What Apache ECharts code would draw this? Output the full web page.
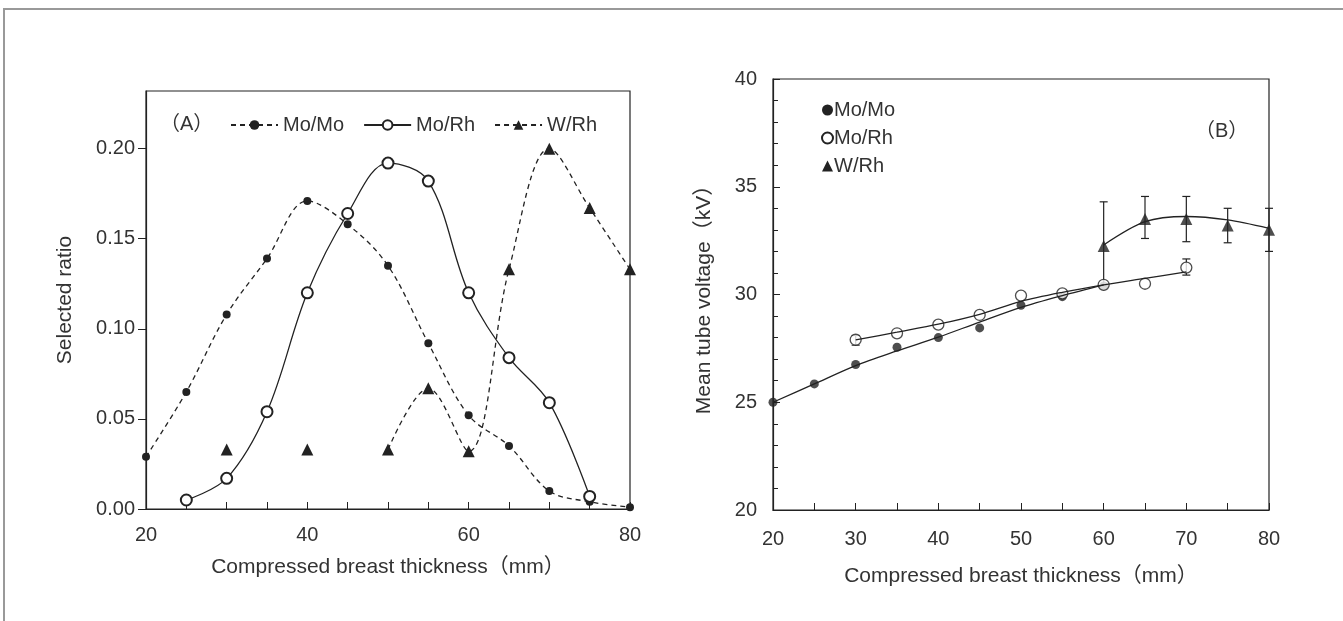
<!DOCTYPE html>
<html>
<head>
<meta charset="utf-8">
<script src="https://cdn.jsdelivr.net/npm/echarts@6/dist/echarts.min.js"></script>
<style>
html,body{margin:0;padding:0;background:#fff;}
#main{width:1343px;height:621px;}
</style>
</head>
<body>
<div id="main"></div>
<script>
// (A) selected ratio vs thickness
var thickA = [20,25,30,35,40,45,50,55,60,65,70,75,80];
var moMoRatio = [0.029,0.065,0.108,0.139,0.171,0.158,0.135,0.092,0.052,0.035,0.010,0.004,0.001];
var moRhThickA = [25,30,35,40,45,50,55,60,65,70,75];
var moRhRatio = [0.005,0.017,0.054,0.120,0.164,0.192,0.182,0.120,0.084,0.059,0.007];
var wRhThickA = [30,35,40,45,50,55,60,65,70,75,80];
var wRhRatio = [0.033,null,0.033,null,0.033,0.067,0.032,0.133,0.200,0.167,0.133];
var ratioTicks = [0,0.05,0.10,0.15,0.20];
var thickTicksA = [20,25,30,35,40,45,50,55,60,65,70,75,80];
var thickLabelsA = [20,40,60,80];

// (B) mean tube voltage vs thickness
var moMoThickB = [20,25,30,35,40,45,50,55,60];
var moMoKV = [25.0,25.85,26.75,27.55,28.0,28.45,29.5,29.9,30.4];
var moRhThickB = [30,35,40,45,50,55,60,65,70];
var moRhKV = [27.9,28.2,28.6,29.05,29.95,30.05,30.45,30.5,31.25];
var moRhErrThick = [30,70];
var moRhErrLow = [27.65,30.9];
var moRhErrHigh = [28.1,31.65];
var wRhThickB = [60,65,70,75,80];
var wRhKV = [32.25,33.5,33.5,33.2,33.0];
var wRhLow = [30.4,32.6,32.45,32.4,32.0];
var wRhHigh = [34.3,34.55,34.55,34.0,34.0];
// fitted curves
var moMoFitX = [20,25,30,35,40,45,50,55,60];
var moMoFit = [25.0,25.85,26.7,27.38,28.02,28.72,29.4,29.95,30.45];
var moRhFitX = [30,35,40,45,50,55,60,65,70];
var moRhFit = [27.89,28.25,28.62,29.08,29.68,30.1,30.45,30.75,31.05];
var wRhFitX = [60,65,70,75,80];
var wRhFit = [32.3,33.38,33.62,33.46,33.07];
var thickTicksB = [20,25,30,35,40,45,50,55,60,65,70,75,80];
var thickLabelsB = [20,30,40,50,60,70,80];

var FONT = "'Liberation Sans', 'Noto Sans CJK JP', sans-serif";
var INK = '#222';
var TXT = '#333';

function pairs(xs, ys) {
	return xs.map(function(x, i) { return [x, ys[i] == null ? '-' : ys[i]]; });
}

function errorBars(xs, lo, hi, gi) {
	return {
		type: 'custom', xAxisIndex: gi, yAxisIndex: gi, silent: true, z: 1,
		data: xs.map(function(x, i) { return [x, lo[i], hi[i]]; }),
		renderItem: function(params, api) {
			var a = api.coord([api.value(0), api.value(1)]);
			var b = api.coord([api.value(0), api.value(2)]);
			var w = 4;
			var st = {stroke: INK, lineWidth: 1.2};
			return {type: 'group', children: [
				{type: 'line', shape: {x1: a[0], y1: a[1], x2: b[0], y2: b[1]}, style: st},
				{type: 'line', shape: {x1: a[0]-w, y1: a[1], x2: a[0]+w, y2: a[1]}, style: st},
				{type: 'line', shape: {x1: b[0]-w, y1: b[1], x2: b[0]+w, y2: b[1]}, style: st}
			]};
		}
	};
}

var axisLine = {lineStyle: {color: INK, width: 1.2}};

var myChart = echarts.init(document.getElementById('main'));

var option = {
	backgroundColor: '#fff',
	animation: false,
	textStyle: {fontFamily: FONT},
	graphic: [
		{type: 'polyline', shape: {points: [[4, 640], [4, 9], [1343, 9]]}, style: {stroke: '#999', lineWidth: 2, fill: null}}
	],
	title: [
		{text: '（A）', left: 155, top: 109, textStyle: {fontSize: 20, fontWeight: 'normal', color: TXT, fontFamily: FONT}},
		{text: '（B）', left: 1190, top: 116, textStyle: {fontSize: 20, fontWeight: 'normal', color: TXT, fontFamily: FONT}}
	],
	legend: [
		{
			left: 225, top: 110, itemWidth: 47, itemHeight: 12, itemGap: 19,
			data: ['Mo/Mo', 'Mo/Rh', 'W/Rh'],
			textStyle: {fontSize: 20, color: TXT, fontFamily: FONT}
		},
		{
			left: 816, top: 95, orient: 'vertical', itemWidth: 11, itemHeight: 11, itemGap: 8,
			data: [{name: 'Mo/Mo', icon: 'circle'}, {name: 'Mo/Rh', icon: 'emptyCircle'}, {name: 'W/Rh', icon: 'triangle'}],
			textStyle: {fontSize: 20, color: TXT, fontFamily: FONT, padding: [0, 0, 0, -4]}
		}
	],
	grid: [
		{left: 146, top: 91, width: 484, height: 418, show: true, borderColor: INK, borderWidth: 1.2, containLabel: false},
		{left: 773, top: 79, width: 496, height: 431, show: true, borderColor: INK, borderWidth: 1.2, containLabel: false}
	],
	xAxis: [
		{
			gridIndex: 0, type: 'value', min: 20, max: 80,
			axisLine: axisLine,
			axisTick: {inside: true, length: 7, customValues: thickTicksA, lineStyle: {color: INK}},
			axisLabel: {customValues: thickLabelsA, margin: 16, fontSize: 20, color: TXT},
			splitLine: {show: false},
			name: 'Compressed breast thickness（mm）', nameLocation: 'middle', nameGap: 48,
			nameTextStyle: {fontSize: 21, color: TXT}
		},
		{
			gridIndex: 1, type: 'value', min: 20, max: 80,
			axisLine: axisLine,
			axisTick: {inside: true, length: 7, customValues: thickTicksB, lineStyle: {color: INK}},
			axisLabel: {customValues: thickLabelsB, margin: 19, fontSize: 20, color: TXT},
			splitLine: {show: false},
			name: 'Compressed breast thickness（mm）', nameLocation: 'middle', nameGap: 56,
			nameTextStyle: {fontSize: 21, color: TXT}
		}
	],
	yAxis: [
		{
			gridIndex: 0, type: 'value', min: 0, max: 0.232,
			axisLine: axisLine,
			axisTick: {inside: false, length: 8, customValues: ratioTicks, lineStyle: {color: INK}},
			axisLabel: {customValues: ratioTicks, margin: 11, fontSize: 20, color: TXT,
				formatter: function(v) { return v.toFixed(2); }},
			splitLine: {show: false},
			name: 'Selected ratio', nameLocation: 'middle', nameGap: 70,
			nameTextStyle: {fontSize: 21, color: TXT}
		},
		{
			gridIndex: 1, type: 'value', min: 20, max: 40, interval: 5,
			axisLine: axisLine,
			axisTick: {inside: true, length: 7, lineStyle: {color: INK}},
			minorTick: {show: true, splitNumber: 5, length: 5, lineStyle: {color: INK}},
			axisLabel: {margin: 16, fontSize: 20, color: TXT},
			splitLine: {show: false},
			name: 'Mean tube voltage（kV）', nameLocation: 'middle', nameGap: 58,
			nameTextStyle: {fontSize: 21, color: TXT}
		}
	],
	series: [
		{
			name: 'Mo/Mo', type: 'line', xAxisIndex: 0, yAxisIndex: 0,
			data: pairs(thickA, moMoRatio), smooth: 0.35,
			symbol: 'circle', symbolSize: 8, color: INK,
			lineStyle: {color: INK, width: 1.3, type: [5, 4]},
			itemStyle: {color: INK}
		},
		{
			name: 'W/Rh', type: 'line', xAxisIndex: 0, yAxisIndex: 0,
			data: pairs(wRhThickA, wRhRatio), smooth: 0.35, connectNulls: false,
			symbol: 'triangle', symbolSize: 12, color: INK,
			lineStyle: {color: INK, width: 1.3, type: [5, 4]},
			itemStyle: {color: INK}
		},
		{
			name: 'Mo/Rh', type: 'line', xAxisIndex: 0, yAxisIndex: 0,
			data: pairs(moRhThickA, moRhRatio), smooth: 0.35,
			symbol: 'emptyCircle', symbolSize: 11, color: INK,
			lineStyle: {color: INK, width: 1.3},
			itemStyle: {color: INK, borderWidth: 1.3}
		},
		// panel B fitted curves
		{
			type: 'line', xAxisIndex: 1, yAxisIndex: 1, data: pairs(moMoFitX, moMoFit),
			smooth: 0.3, showSymbol: false, silent: true, lineStyle: {color: INK, width: 1.3}
		},
		{
			type: 'line', xAxisIndex: 1, yAxisIndex: 1, data: pairs(moRhFitX, moRhFit),
			smooth: 0.3, showSymbol: false, silent: true, lineStyle: {color: INK, width: 1.3}
		},
		{
			type: 'line', xAxisIndex: 1, yAxisIndex: 1, data: pairs(wRhFitX, wRhFit),
			smooth: 0.3, showSymbol: false, silent: true, lineStyle: {color: INK, width: 1.3}
		},
		errorBars(wRhThickB, wRhLow, wRhHigh, 1),
		errorBars(moRhErrThick, moRhErrLow, moRhErrHigh, 1),
		{
			name: 'Mo/Mo', type: 'scatter', xAxisIndex: 1, yAxisIndex: 1,
			data: pairs(moMoThickB, moMoKV), symbol: 'circle', symbolSize: 9,
			itemStyle: {color: INK}
		},
		{
			name: 'Mo/Rh', type: 'scatter', xAxisIndex: 1, yAxisIndex: 1,
			data: pairs(moRhThickB, moRhKV), symbol: 'circle', symbolSize: 11,
			itemStyle: {color: '#fff', borderColor: INK, borderWidth: 1.3}
		},
		{
			name: 'W/Rh', type: 'scatter', xAxisIndex: 1, yAxisIndex: 1,
			data: pairs(wRhThickB, wRhKV), symbol: 'triangle', symbolSize: 12,
			itemStyle: {color: INK}
		}
	]
};

myChart.setOption(option);
</script>
</body>
</html>
